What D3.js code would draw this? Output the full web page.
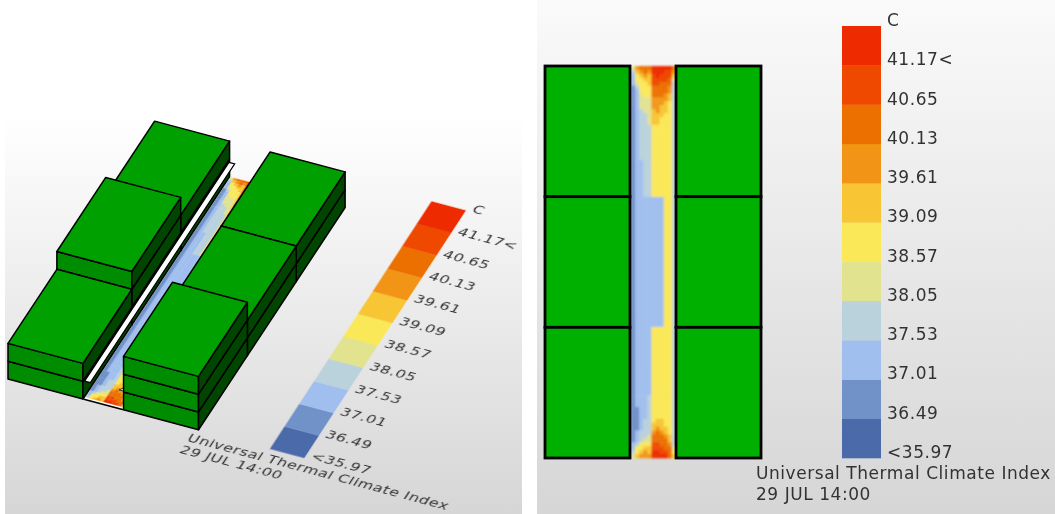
<!DOCTYPE html>
<html>
<head>
<meta charset="utf-8">
<script src="https://cdn.jsdelivr.net/npm/d3@7/dist/d3.min.js"></script>
<style>
html,body{margin:0;padding:0;background:#fff;overflow:hidden}
svg{display:block}
text{font-family:"DejaVu Sans",sans-serif;fill:#333;letter-spacing:0.55px}
</style>
</head>
<body>
<svg id="chart" width="1055" height="514"></svg>
<script>
// ---- data ----
const legendLabels = ["<35.97","36.49","37.01","37.53","38.05","38.57","39.09","39.61","40.13","40.65","41.17<"];
const legendThresholds = [35.97,36.49,37.01,37.53,38.05,38.57,39.09,39.61,40.13,40.65];
const legendColors = ["#4b6ba9","#6f92c9","#a0bfee","#b9d2dc","#e1e38f","#fbe858","#f8c534","#f29512","#ec7000","#ef4a00","#ee2a00"];
const legendUnit = "C";
const titleLines = ["Universal Thermal Climate Index","29 JUL 14:00"];
const leftFloors = [2,3,2];   // back, middle, front block
const rightFloors = [2,2,3];
const heatRowStarts = [0,1,2,3,4,5,6,7,8,9,10,11,12,13,15,24,33.4,66.6,84,87,90,91,92,93,94,95,96,97,98,99];
const heatRows = [
[37.8,39.4,39.9,39.9,39.9,41.0,41.0,41.0,41.0,41.0,39.9],
[37.3,38.8,39.4,39.9,39.4,41.0,41.0,41.0,40.4,40.4,39.4],
[36.8,38.3,38.8,39.4,38.8,40.4,41.0,40.4,40.4,40.4,38.8],
[36.8,38.3,38.3,38.8,38.8,40.4,40.4,40.4,40.4,39.9,37.8],
[36.8,37.8,38.3,38.3,38.8,40.4,40.4,39.9,39.9,39.9,37.3],
[36.2,37.3,38.3,38.3,38.3,39.9,39.9,39.9,39.9,39.4,37.3],
[36.2,36.8,38.3,38.3,38.3,39.9,39.9,39.9,39.9,39.4,37.3],
[36.2,36.8,37.8,38.3,38.3,39.9,39.9,39.9,39.4,38.8,37.3],
[36.2,36.8,37.8,37.8,37.8,39.4,39.4,39.4,39.4,38.8,37.3],
[36.2,36.8,37.8,37.8,37.8,39.4,39.4,39.4,38.8,38.3,37.3],
[36.2,36.8,37.8,37.8,37.8,39.4,39.4,38.8,38.8,38.3,37.3],
[36.2,36.8,37.3,37.8,37.8,38.8,39.4,38.8,38.8,38.3,37.3],
[36.2,36.8,37.3,37.3,37.8,38.8,38.8,38.8,38.3,38.3,37.3],
[36.2,36.8,37.3,37.3,37.8,38.8,38.8,38.3,38.3,38.3,37.3],
[36.2,36.8,37.3,37.3,37.3,38.3,38.3,38.3,38.3,38.3,37.3],
[36.2,36.8,36.8,37.3,37.3,38.3,38.3,38.3,38.3,38.3,37.3],
[36.2,36.8,36.8,36.8,36.8,36.8,36.8,36.8,38.3,38.3,37.3],
[36.2,36.8,36.8,36.8,36.8,38.3,38.3,38.3,38.3,38.3,37.3],
[36.2,36.8,36.8,36.8,37.3,38.3,38.3,38.3,38.3,38.3,37.3],
[36.2,36.2,36.8,36.8,37.3,38.3,38.3,38.3,38.3,38.3,37.3],
[36.2,36.2,36.8,37.3,37.3,38.3,38.8,38.8,38.3,38.3,37.3],
[36.2,36.2,36.8,37.3,37.3,38.8,38.8,38.8,38.3,38.3,37.3],
[36.2,36.2,36.8,37.3,37.3,38.8,39.4,38.8,38.8,38.3,37.3],
[36.2,36.8,37.3,37.3,37.3,39.4,39.9,39.4,38.8,38.3,37.3],
[36.2,36.8,37.3,37.3,37.8,39.9,39.9,39.9,39.4,38.8,37.3],
[36.2,36.8,37.3,37.8,37.8,39.9,39.9,39.9,39.9,38.8,37.3],
[36.8,37.3,38.3,38.3,38.3,40.4,40.4,39.9,39.9,39.4,37.3],
[36.8,38.3,38.3,38.8,38.8,40.4,40.4,40.4,39.9,39.9,37.8],
[37.3,38.3,38.8,39.4,38.8,41.0,41.0,40.4,40.4,39.9,38.3],
[37.8,38.8,39.4,39.4,39.4,41.0,41.0,41.0,41.0,39.9,38.8]
];

// ---- layout (plan coordinates are those of the right-hand view) ----
const W = 1055, H = 514;
const planY = d3.scaleLinear().domain([0,3]).range([66,458]);
const blockW = 85, leftX = 545, rightX = 676, corridorX0 = 631, corridorX1 = 676;
const heatCol = d3.scaleBand().domain(d3.range(11)).range([corridorX0, corridorX1]);
const heatRowY = d3.scaleLinear().domain([0,100]).range([66,458]);
const colorOf = d3.scaleThreshold().domain(legendThresholds).range(legendColors);
const legendY = d3.scaleBand().domain(d3.range(legendLabels.length).reverse()).range([26,458]);
const legendX = 842, legendW = 39, labelX = 887;

// oblique projection of the plan for the left-hand view
const cam = {ax:0.882, ay:0.235, bx:-0.374, by:0.567, floor:17.8};
cam.e = 8 - cam.ax*leftX - cam.bx*458;
cam.f = 379 - cam.ay*leftX - cam.by*458;
const legendBy = 0.573;
const legendF = 379 - cam.ay*leftX - legendBy*458;
const project = (x,y,z=0) => [cam.ax*x + cam.bx*y + cam.e, cam.ay*x + cam.by*y + cam.f - z*cam.floor];
const line = d3.line();
const poly = pts => line(pts) + "Z";

const svg = d3.select("#chart");
const defs = svg.append("defs");
function grad(id, top, bottom){
  const g = defs.append("linearGradient").attr("id",id).attr("x1",0).attr("x2",0).attr("y1",0).attr("y2",1);
  g.append("stop").attr("offset",0).attr("stop-color",top);
  g.append("stop").attr("offset",1).attr("stop-color",bottom);
}
grad("bgL","#ffffff","#d6d6d6");
grad("bgR","#fafafa","#d6d6d6");
function blur(id, s){
  defs.append("filter").attr("id",id).attr("filterUnits","userSpaceOnUse")
    .attr("x",0).attr("y",0).attr("width",W).attr("height",H)
    .append("feGaussianBlur").attr("stdDeviation",s);
}
blur("soft",0.6);
blur("softHeat",0.8);

svg.append("rect").attr("x",5).attr("y",115).attr("width",517).attr("height",H-115).attr("fill","url(#bgL)");
svg.append("rect").attr("x",537).attr("y",0).attr("width",W-537).attr("height",H).attr("fill","url(#bgR)");

function drawHeat(g){
  heatRows.forEach((row,r)=>{
    const y0 = heatRowY(heatRowStarts[r]);
    const y1 = heatRowY(r+1<heatRowStarts.length ? heatRowStarts[r+1] : 100);
    g.selectAll(null).data(row).enter().append("rect")
      .attr("x",(d,i)=>heatCol(i)).attr("y",y0)
      .attr("width",heatCol.bandwidth()+0.3).attr("height",y1-y0+0.3)
      .attr("fill",d=>colorOf(d));
  });
}
function drawLegend(g){
  g.selectAll("rect.cell").data(legendColors).enter().append("rect").attr("class","cell")
    .attr("x",legendX).attr("y",(d,i)=>legendY(i))
    .attr("width",legendW).attr("height",legendY.bandwidth()+0.3).attr("fill",d=>d);
  g.selectAll("text.lab").data(legendLabels).enter().append("text").attr("class","lab")
    .attr("x",labelX).attr("y",(d,i)=>legendY(i)+legendY.bandwidth())
    .attr("font-size",17).text(d=>d);
  g.append("text").attr("x",labelX).attr("y",26).attr("font-size",17).text(legendUnit);
  g.selectAll("text.title").data(titleLines).enter().append("text").attr("class","title")
    .attr("x",756).attr("y",(d,i)=>479+i*21).attr("font-size",17).text(d=>d);
}

// ---- right-hand plan view ----
drawHeat(svg.append("g").attr("filter","url(#softHeat)"));
const right = svg.append("g").attr("filter","url(#soft)");
[[leftX,leftFloors],[rightX,rightFloors]].forEach(([x,fl])=>{
  right.selectAll(null).data(fl).enter().append("rect")
    .attr("x",x).attr("y",(d,i)=>planY(i))
    .attr("width",blockW).attr("height",(d,i)=>planY(i+1)-planY(i))
    .attr("fill","#06b006").attr("stroke","#000").attr("stroke-width",2.8);
});
drawLegend(right);

// ---- left-hand oblique view ----
drawLegend(svg.append("g").attr("filter","url(#soft)")
  .attr("transform",`matrix(${cam.ax},${cam.ay},${cam.bx},${legendBy},${cam.e},${legendF})`));
drawHeat(svg.append("g").attr("filter","url(#softHeat)")
  .attr("transform",`matrix(${cam.ax},${cam.ay},${cam.bx},${cam.by},${cam.e},${cam.f})`));
const left = svg.append("g").attr("filter","url(#soft)");

// white sill and line closing the front of the corridor
left.append("path").attr("d",poly([project(corridorX0,454.5),project(corridorX1,454.5),project(corridorX1,458),project(corridorX0,458)]))
  .attr("fill","#fff");
left.append("path").attr("d",line([project(corridorX0,458),project(corridorX1,458)]))
  .attr("stroke","#000").attr("stroke-width",1.6).attr("fill","none");

function drawBlock(x0,y0,y1,floors){
  const x1 = x0+blockW;
  for(let z=0;z<floors;z++){
    left.append("path").attr("d",poly([project(x0,y1,z),project(x1,y1,z),project(x1,y1,z+1),project(x0,y1,z+1)]))
      .attr("fill","#008c00").attr("stroke","#000").attr("stroke-width",1.5).attr("stroke-linejoin","round");
    left.append("path").attr("d",poly([project(x1,y1,z),project(x1,y0,z),project(x1,y0,z+1),project(x1,y1,z+1)]))
      .attr("fill","#004400").attr("stroke","#000").attr("stroke-width",1.5).attr("stroke-linejoin","round");
  }
  left.append("path").attr("d",poly([project(x0,y1,floors),project(x1,y1,floors),project(x1,y0,floors),project(x0,y0,floors)]))
    .attr("fill","#00a000").attr("stroke","#000").attr("stroke-width",1.5).attr("stroke-linejoin","round");
}
leftFloors.forEach((f,i)=>drawBlock(leftX,planY(i),planY(i+1),f));

// white sheet running along the corridor above the ground
left.append("path").attr("d",poly([project(631,70,0.95),project(637.5,70,0.95),project(637.5,456,0.95),project(631,456,0.95)]))
  .attr("fill","#fff").attr("stroke","#000").attr("stroke-width",1.2);
left.append("path").attr("d",poly([project(671,458,1.05),project(676,458,1.05),project(676,450,1.05)]))
  .attr("fill","#fff").attr("stroke","#000").attr("stroke-width",0.8);

rightFloors.forEach((f,i)=>drawBlock(rightX,planY(i),planY(i+1),f));
</script>
</body>
</html>
